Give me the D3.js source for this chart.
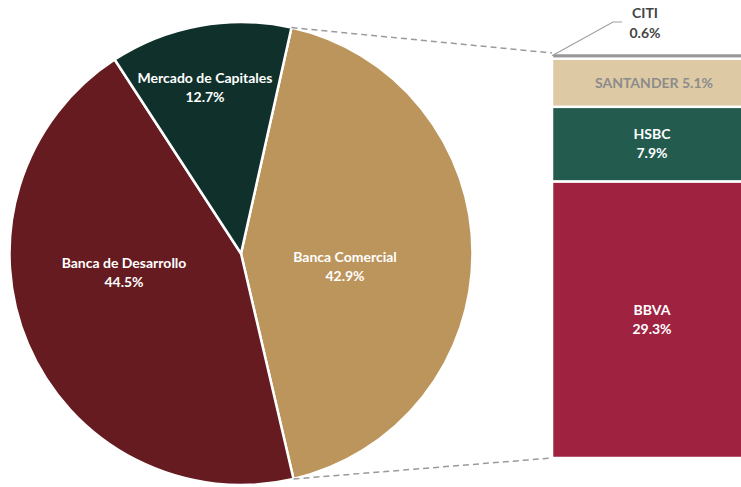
<!DOCTYPE html>
<html><head><meta charset="utf-8">
<script src="https://cdn.jsdelivr.net/npm/d3@7"></script>
<style>body{margin:0;background:#fff}svg{display:block}text{font-family:Lato,"Open Sans",sans-serif;font-weight:700}</style>
</head><body><svg id="c" width="741" height="487"></svg>
<script>
const pieCategories = ["Banca Comercial", "Banca de Desarrollo", "Mercado de Capitales"];
const pieValues = [42.9, 44.5, 12.7];
const pieColors = ["#BC955C", "#661B21", "#10312B"];
const barCategories = ["BBVA", "HSBC", "SANTANDER", "CITI"];
const barValues = [29.3, 7.9, 5.1, 0.6];
const barColors = ["#9F2241", "#235B4E", "#DDC9A3", "#98989A"];

const svg = d3.select("#c");
const cx = 241, cy = 253.5, R = 231.5;
const start = 12.6 * Math.PI / 180;
const pie = d3.pie().sort(null).startAngle(start).endAngle(start + 2 * Math.PI);
const arcs = pie(pieValues);
const arc = d3.arc().innerRadius(0).outerRadius(R);
const g = svg.append("g").attr("transform", `translate(${cx},${cy})`);
g.selectAll("path").data(arcs).join("path")
  .attr("d", arc).attr("fill", (d, i) => pieColors[i])
  .attr("stroke", "#fff").attr("stroke-width", 2.5).attr("stroke-linejoin", "round");

const FS = 14;
// labels
const labelNudge = [[104, 13], [-117, 19], [-36, -166]];
arcs.forEach((a, i) => {
  const [x, y] = labelNudge[i];
  const t = g.append("text").attr("text-anchor", "middle").attr("fill", "#fff").attr("font-size", FS);
  t.append("tspan").attr("x", x).attr("y", y - 5).text(pieCategories[i]);
  t.append("tspan").attr("x", x).attr("y", y + 14).text(pieValues[i].toFixed(1) + "%");
});

// bar
const x0 = 552, x1 = 752;
const total = d3.sum(barValues);
const y = d3.scaleLinear().domain([0, total]).range([458, 53]);
let cum = 0;
const segs = barValues.map((v, i) => { const s = { i, v, y0: cum, y1: cum + v }; cum += v; return s; });
svg.selectAll("rect.seg").data(segs).join("rect").attr("class", "seg")
  .attr("x", x0).attr("width", x1 - x0)
  .attr("y", d => y(d.y1)).attr("height", d => y(d.y0) - y(d.y1))
  .attr("fill", d => barColors[d.i]).attr("stroke", "#fff").attr("stroke-width", 2.5);

// connector lines
const a0 = arcs[0].startAngle, a1 = arcs[0].endAngle;
const px = a => cx + R * Math.sin(a), py = a => cy - R * Math.cos(a);
svg.append("line").attr("x1", px(a0)).attr("y1", py(a0)).attr("x2", x0).attr("y2", y(total))
  .attr("stroke", "#9a9a9a").attr("stroke-width", 1.5).attr("stroke-dasharray", "6,4");
svg.append("line").attr("x1", px(a1)).attr("y1", py(a1)).attr("x2", x0).attr("y2", y(0))
  .attr("stroke", "#9a9a9a").attr("stroke-width", 1.5).attr("stroke-dasharray", "6,4");

// bar labels
const bx = 652;
function two(i, c) {
  const s = segs[i]; const m = (y(s.y0) + y(s.y1)) / 2;
  const t = svg.append("text").attr("text-anchor", "middle").attr("fill", c).attr("font-size", FS);
  t.append("tspan").attr("x", bx).attr("y", m - 5).text(barCategories[i]);
  t.append("tspan").attr("x", bx).attr("y", m + 14).text(barValues[i].toFixed(1) + "%");
}
two(0, "#fff"); two(1, "#fff");
const sS = segs[2];
svg.append("text").attr("text-anchor", "middle").attr("fill", "#8c8c8c").attr("font-size", FS)
  .attr("x", 654).attr("y", (y(sS.y0) + y(sS.y1)) / 2 + 5).text(barCategories[2] + " " + barValues[2].toFixed(1) + "%");
// CITI callout
const sC = segs[3];
const cyC = (y(sC.y0) + y(sC.y1)) / 2;
svg.append("polyline").attr("points", `${x0},${cyC} 613,22 622,22`).attr("fill", "none")
  .attr("stroke", "#a0a0a0").attr("stroke-width", 1.2);
const tc = svg.append("text").attr("text-anchor", "middle").attr("fill", "#444").attr("font-size", FS);
tc.append("tspan").attr("x", 645).attr("y", 18).text(barCategories[3]);
tc.append("tspan").attr("x", 645).attr("y", 38).text(barValues[3].toFixed(1) + "%");
</script></body></html>
